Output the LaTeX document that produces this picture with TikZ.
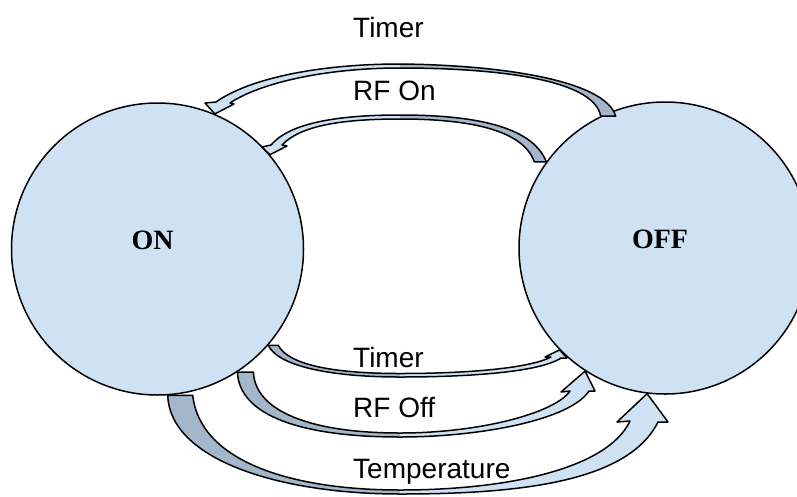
\documentclass[tikz,border=0pt]{standalone}
\usepackage{fontspec}
\setmainfont{Liberation Sans}
\newfontfamily\statefont{Liberation Serif}
\definecolor{stateblue}{RGB}{207,226,243}
\definecolor{backblue}{RGB}{164,183,202}
\tikzset{
  state/.style={circle,draw,line width=1.5pt,fill=stateblue,minimum size=292pt,inner sep=0pt},
  statetext/.style={anchor=base,inner sep=0pt,font=\statefont\bfseries\fontsize{28}{34}\selectfont},
  trigger/.style={anchor=base west,inner sep=0pt,font=\fontsize{28}{34}\selectfont},
  ribbon/.style={draw,line width=1.5pt,line join=round,fill=stateblue},
  tailright/.style={path picture={\fill[backblue] (split |- path picture bounding box.north) rectangle (path picture bounding box.south east);}},
  tailleft/.style={path picture={\fill[backblue] (path picture bounding box.north west) rectangle (split |- path picture bounding box.south);}}
}
\begin{document}
\begin{tikzpicture}[x=1pt,y=-1pt]
    \useasboundingbox (0,0) rectangle (797,496);
    \clip (0,0) rectangle (797,496);
    \node at (157.5,249) [state] (on) {};
    \node at (665,248) [state] (off) {};
    \node at ([xshift=-5pt]on.center) [statetext] (onlabel) {ON};
    \node at ([xshift=-5pt]off.center) [statetext] (offlabel) {OFF};
    \coordinate (split) at (400,0);

    % OFF -> ON
    \draw[ribbon,tailright] (off.116) -- ([xshift=15pt]off.116)
        .. controls (605,80) and (500,65) .. (400,64)
        .. controls (320,64) and (250,78) .. (216,102)
        -- (205,103) -- (on.67) -- (234,104) -- (230,103)
        .. controls (260,83) and (325,68) .. (400,68)
        .. controls (490,68) and (594,78) .. (off.116) -- cycle;
    \draw[ribbon,tailright] ([xshift=-12pt]off.144) -- (off.144)
        .. controls (532,125) and (470,115) .. (400,115)
        .. controls (330,115) and (288,125) .. (271,145)
        -- (262,147) -- (on.40) -- (287,146) -- (282,145)
        .. controls (300,126) and (340,119) .. (400,119)
        .. controls (470,119) and (523,130) .. ([xshift=-12pt]off.144) -- cycle;

    % ON -> OFF
    \draw[ribbon,tailleft] (on.-41)
        .. controls (278,366) and (330,377) .. (400,377)
        .. controls (470,377) and (540,372) .. (561,358)
        -- (567,358) -- (off.224) -- (545,357) -- (551,357)
        .. controls (530,368) and (470,373.5) .. (400,373.5)
        .. controls (330,373.5) and (288,364) .. ([xshift=10pt]on.-41) -- cycle;
    \draw[ribbon,tailleft] (on.-57.5)
        .. controls (239,415) and (300,437) .. (400,437)
        .. controls (480,437) and (570,420) .. (589,391)
        -- (595,391) -- (off.237) -- (561,392) -- (570,391)
        .. controls (555,413) and (480,433) .. (400,433)
        .. controls (310,433) and (255,411) .. ([xshift=16pt]on.-57.5) -- cycle;
    \draw[ribbon,tailleft] (on.-86)
        .. controls (170,460) and (280,494) .. (400,494)
        .. controls (520,494) and (628,482) .. (658,422)
        -- (668,422) -- (off.263) -- (617,422) -- (630,421)
        .. controls (608,468) and (510,490) .. (400,490)
        .. controls (290,490) and (200,461) .. ([xshift=25pt]on.-86) -- cycle;

    \node at (353,37) [trigger] (timerup) {Timer};
    \node at (353,100) [trigger] (rfon) {RF On};
    \node at (353,367) [trigger] (timerdown) {Timer};
    \node at (353,417) [trigger] (rfoff) {RF Off};
    \node at (353,478) [trigger] (temp) {Temperature};
\end{tikzpicture}
\end{document}
